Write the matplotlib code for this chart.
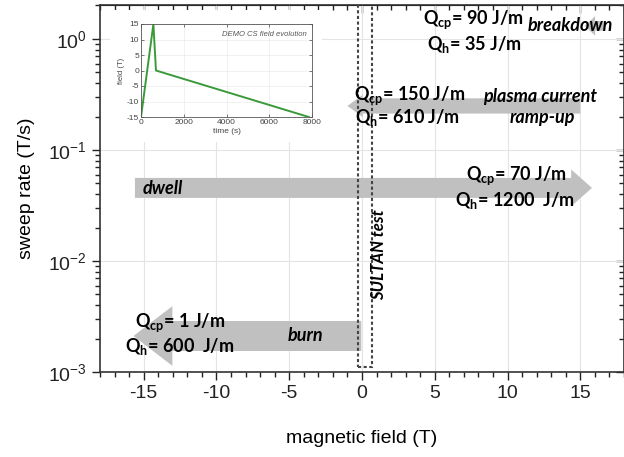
import numpy as np
import matplotlib
matplotlib.use("Agg")
import matplotlib.pyplot as plt
from matplotlib.ticker import MultipleLocator, LogLocator, NullFormatter
from matplotlib.patches import Rectangle

# --- data --------------------------------------------------------------
phases = ["breakdown", "plasma current\nramp-up", "dwell", "burn"]
field_start = [16.6, 15.0, -15.6, -0.05]     # T, arrow tail
field_end = [15.3, -1.0, 15.8, -15.7]        # T, arrow tip
sweep_rate = [1.31, 0.249, 0.0455, 0.00211]  # T/s
q_cp = ["90", "150", "70", "1"]               # J/m
q_h = ["35", "610", "1200 ", "600 "]          # J/m

# inset: DEMO CS field evolution
t_cs = [0, 580, 700, 7850]
b_cs = [-15, 15, 0, -15]

# SULTAN test window
sultan_field = [-0.3, 0.7]
sultan_rate_min = 0.00111

# --- styling ----------------------------------------------------------
plt.rcParams['font.family'] = ['Liberation Sans', 'DejaVu Sans']
plt.rcParams['mathtext.fontset'] = 'custom'
plt.rcParams['mathtext.rm'] = 'Liberation Sans'
plt.rcParams['axes.unicode_minus'] = False
grey = "#c0c0c0"
lbl_font = ['Lato', 'DejaVu Sans']

# arrow shapes (points): tail width, head width, head length
tail_w = [7, 11, 14.4, 21.6]
head_w = [14, 16, 26.6, 43]
head_l = [7.5, 11, 15, 28]

fig = plt.figure(figsize=(6.24, 4.57), dpi=100)
ax = fig.add_axes([100/624, 85/457, 524/624, 367/457])

ax.set_xlim(-18, 18)
ax.set_yscale('log')
ax.set_ylim(1e-3, 2.02)
ax.xaxis.set_major_locator(MultipleLocator(5))
ax.xaxis.set_minor_locator(MultipleLocator(1))
ax.yaxis.set_major_locator(LogLocator(base=10, numticks=10))
ax.yaxis.set_minor_locator(LogLocator(base=10, subs=np.arange(2, 10), numticks=10))
ax.yaxis.set_minor_formatter(NullFormatter())
ax.grid(True, which='major', color='#e4e4e4', lw=0.8)
ax.set_axisbelow(True)
ax.tick_params(which='both', direction='out', labelsize=14, colors='#222222', width=1)
ax.tick_params(which='major', length=6)
ax.tick_params(which='minor', length=3.5)
for s in ax.spines.values():
    s.set_color('#333333')
    s.set_linewidth(1.2)

# mirrored ticks on top and right, pointing inward
top = ax.secondary_xaxis('top')
top.xaxis.set_major_locator(MultipleLocator(5))
top.xaxis.set_minor_locator(MultipleLocator(1))
top.tick_params(which='both', direction='in', labeltop=False, width=1, colors='#222222')
top.tick_params(which='major', length=6)
top.tick_params(which='minor', length=3.5)
right = ax.secondary_yaxis('right')
right.tick_params(which='both', direction='in', labelright=False, width=1, colors='#222222')
right.tick_params(which='major', length=6)
right.tick_params(which='minor', length=3.5)

ax.set_xlabel("magnetic field (T)", fontsize=14, labelpad=20)
ax.set_ylabel("sweep rate (T/s)", fontsize=14, labelpad=9)

# phase arrows
for i in range(len(phases)):
    style = f"simple,head_length={head_l[i]},head_width={head_w[i]},tail_width={tail_w[i]}"
    ax.annotate("", xy=(field_end[i], sweep_rate[i]), xytext=(field_start[i], sweep_rate[i]),
                arrowprops=dict(arrowstyle=style, mutation_scale=1, fc=grey, ec='none',
                                shrinkA=0, shrinkB=0), zorder=3)

# SULTAN test window
ax.add_patch(Rectangle((sultan_field[0], sultan_rate_min), sultan_field[1] - sultan_field[0], 5,
                       fill=False, ec='#444444', lw=1.5, ls=(0, (1.5, 1.2)), zorder=4))
ax.text(1.2, 0.0113, "SULTAN test", rotation=90, ha='center', va='center', fontsize=12,
        fontweight='bold', style='italic', family=lbl_font, zorder=5)

# phase labels
kw = dict(fontsize=13, fontweight='bold', style='italic', family=lbl_font, zorder=5, va='center')
ax.text(11.4, 1.31, "breakdown", ha='left', **kw)
ax.text(8.3, 0.306, "plasma current", ha='left', **kw)
ax.text(12.4, 0.194, "ramp-up", ha='center', **kw)
ax.text(-15.1, 0.0445, "dwell", ha='left', **kw)
ax.text(-3.9, 0.00215, "burn", ha='center', **kw)

# heat loads
qx_cp = [4.2, -0.55, 7.14, -15.6]
qy_cp = [1.48, 0.306, 0.0583, 0.00276]
qx_h = [4.46, -0.48, 6.39, -16.3]
qy_h = [0.883, 0.194, 0.0347, 0.00168]
qkw = dict(fontsize=13, fontweight='bold', family=lbl_font, zorder=5, va='center', ha='left')
for i in range(len(phases)):
    ax.text(qx_cp[i], qy_cp[i], r"Q$_\mathregular{cp}$= " + q_cp[i] + " J/m", **qkw)
    ax.text(qx_h[i], qy_h[i], r"Q$_\mathregular{h}$= " + q_h[i] + " J/m", **qkw)

# inset background (pasted picture)
fig.patches.append(Rectangle((110/624, 1 - 142/457), 212/624, 132/457, transform=fig.transFigure,
                             fc='white', ec='none', zorder=1))

ins = fig.add_axes([141/624, 1 - 117/457, 171/624, 93/457], zorder=2)
ins.plot(t_cs, b_cs, color='#3a9a3a', lw=1.4)
ins.set_xlim(0, 8000)
ins.set_ylim(-15, 15)
ins.set_xticks([0, 2000, 4000, 6000, 8000])
ins.set_yticks([-15, -10, -5, 0, 5, 10, 15])
ins.grid(True, color='#ececec', lw=0.5)
ins.tick_params(direction='in', labelsize=6, length=2, width=0.5, top=True, right=True, pad=1.5,
                colors='#444444')
for s in ins.spines.values():
    s.set_linewidth(0.6)
    s.set_color('#555555')
ins.set_xlabel("time (s)", fontsize=6, labelpad=1.5, color='#444444')
ins.set_ylabel("field (T)", fontsize=5.5, labelpad=1, color='#444444')
ins.text(0.97, 0.93, "DEMO CS field evolution", transform=ins.transAxes, ha='right', va='top',
         fontsize=5.5, style='italic', color='#555555')

fig.savefig("out.png", dpi=100)
